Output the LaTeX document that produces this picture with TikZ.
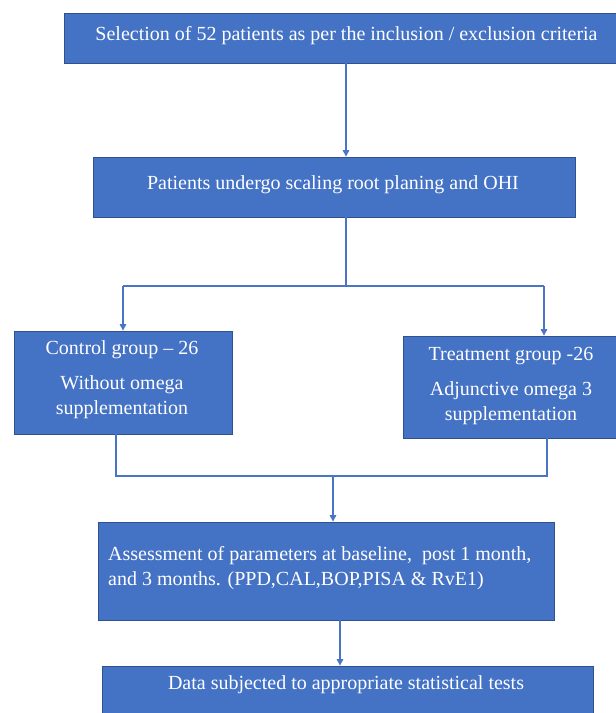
\documentclass[tikz,border=0pt]{standalone}
\usepackage{fontspec}
\setmainfont{Liberation Serif}
\usetikzlibrary{arrows.meta,calc}
\definecolor{boxblue}{HTML}{4472C4}
\definecolor{boxedge}{HTML}{2F528F}
\definecolor{linkblue}{HTML}{4A74C6}
\begin{document}
\begin{tikzpicture}[x=1pt,y=-1pt,
  box/.style={draw=boxedge, line width=0.8pt, fill=boxblue, rectangle, inner sep=0pt},
  txt/.style={text=white, font=\fontsize{20}{24}\selectfont, inner sep=0pt},
  conn/.style={draw=linkblue, line width=1.1pt},
  arr/.style={conn, -{Triangle[length=6.5pt,width=6.5pt]}}]
\useasboundingbox (0,0) rectangle (616,713);
\clip (0,0) rectangle (616,713);
% boxes
\node[box, minimum width=565pt, minimum height=50pt] (sel) at (346.5,38) {};
\node[box, minimum width=482pt, minimum height=60pt] (pat) at (334,187) {};
\node[box, minimum width=217.5pt, minimum height=103pt] (ctl) at (123.25,382.5) {};
\node[box, minimum width=216pt, minimum height=102pt] (trt) at (511,387) {};
\node[box, minimum width=456pt, minimum height=98pt] (ass) at (326,571) {};
\node[box, minimum width=491pt, minimum height=60pt] (dat) at (347.5,696) {};
% texts
\node[txt, anchor=base] (tsel) at (346.5,40) {Selection of 52 patients as per the inclusion / exclusion criteria};
\node[txt, anchor=base] (tpat) at (333,189) {Patients undergo scaling root planing and OHI};
\node[txt, anchor=base] (tc1) at (122,354) {Control group -- 26};
\node[txt, anchor=base] (tc2) at (122,389) {Without omega};
\node[txt, anchor=base] (tc3) at (122,414) {supplementation};
\node[txt, anchor=base] (tt1) at (511,360) {Treatment group -26};
\node[txt, anchor=base] (tt2) at (511,395) {Adjunctive omega 3};
\node[txt, anchor=base] (tt3) at (511,420) {supplementation};
\node[txt, anchor=base west] (ta1) at (108,560) {Assessment of parameters at baseline,\ \ post 1 month,};
\node[txt, anchor=base west] (ta2) at (108,585) {and 3 months. (PPD,CAL,BOP,PISA \& RvE1)};
\node[txt, anchor=base] (tdat) at (346,689) {Data subjected to appropriate statistical tests};
% connector coordinates
\coordinate (x1) at (346,0);
\coordinate (jc) at (346,286);
\coordinate (jl) at (123,286);
\coordinate (jr) at (544,286);
\coordinate (ml) at (116,476);
\coordinate (mr) at (547,476);
\coordinate (mm) at (333,476);
\coordinate (x2) at (340,0);
% connectors
\draw[arr] (sel.south -| x1) -- (pat.north -| x1);
\draw[conn] (pat.south -| x1) -- (jc);
\draw[conn] (jl) -- (jr);
\draw[arr] (jl) -- (jl |- ctl.north);
\draw[arr] (jr) -- (jr |- trt.north);
\draw[conn] (ml |- ctl.south) -- (ml) -- (mr) -- (mr |- trt.south);
\draw[arr] (mm) -- (mm |- ass.north);
\draw[arr] (ass.south -| x2) -- (dat.north -| x2);
\end{tikzpicture}
\end{document}
